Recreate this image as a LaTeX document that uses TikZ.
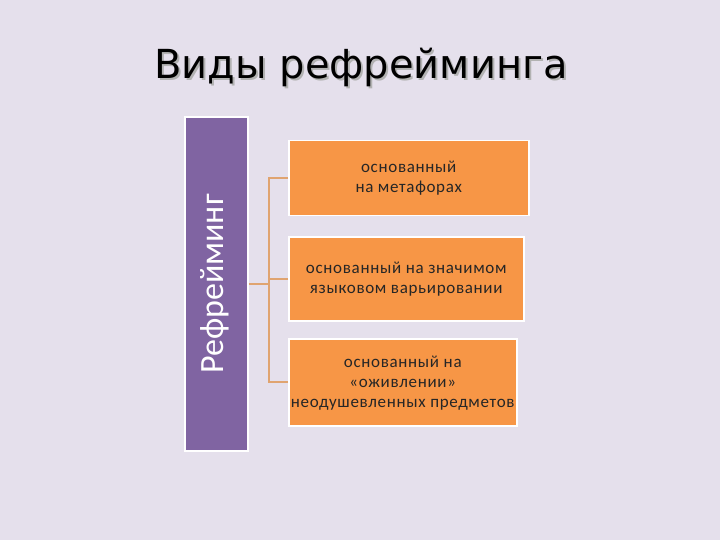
\documentclass[tikz,border=0pt]{standalone}
\usepackage{fontspec}
\setmainfont{Carlito}
\newfontfamily\titlefont{DejaVu Sans}
\newfontfamily\boxfont[LetterSpace=4]{Carlito}
\usepackage{xcolor}
\usetikzlibrary{
    arrows.meta,
    shapes,
    positioning,
    calc
}
\definecolor{slidebg}{HTML}{E5E0EC}
\definecolor{violetbox}{HTML}{8064A2}
\definecolor{orangebox}{HTML}{F79646}
\definecolor{linktan}{HTML}{E0A470}
\newcommand{\shadowtitle}[1]{\makebox[0pt][l]{\hspace{2pt}\raisebox{-2pt}{\textcolor{black!30}{#1}}}#1}

\begin{document}
\begin{tikzpicture}[x=1pt,y=-1pt,
        kind/.style={draw=white,line width=1.5pt,fill=orangebox,align=center,
            font=\boxfont\fontsize{17}{20}\selectfont,text=black!85,inner sep=0pt},
        link/.style={draw=linktan,line width=1.6pt}]
    \fill[slidebg] (0,0) rectangle (720,540);
    \useasboundingbox (0,0) rectangle (720,540);
    % title with shadow
    \node (title) [font=\titlefont\fontsize{40}{48}\selectfont] at (361,68) {\shadowtitle{Виды рефрейминга}};
    % left bar
    \node (reframe) [draw=white,line width=1.5pt,fill=violetbox,minimum width=63pt,minimum height=334pt,
        inner sep=0pt] at (216.5,284) {};
    \node[rotate=90,text=white,font=\fontsize{34}{40}\selectfont] at ($(reframe.center)+(-2,0)$) {Рефрейминг};
    % three kinds
    \node (metaphor) [kind,minimum width=240pt,minimum height=75pt,anchor=north west] at (288,140)
        {основанный\\на метафорах};
    \node (language) [kind,minimum width=235pt,minimum height=84pt,anchor=north west] at (288,236)
        {основанный на значимом\\языковом варьировании};
    \node (animate) [kind,minimum width=228pt,minimum height=87pt,anchor=north west] at (288,338)
        {\\[-6pt]основанный на\\«оживлении»\\неодушевленных предметов};
    % connectors
    \coordinate (fork) at ($(reframe.east)+(20,0)$);
    \draw[link] (reframe.east) -- (fork);
    \foreach \k in {metaphor,language,animate}
        \draw[link] (\k.west) -| (fork);
\end{tikzpicture}
\end{document}
